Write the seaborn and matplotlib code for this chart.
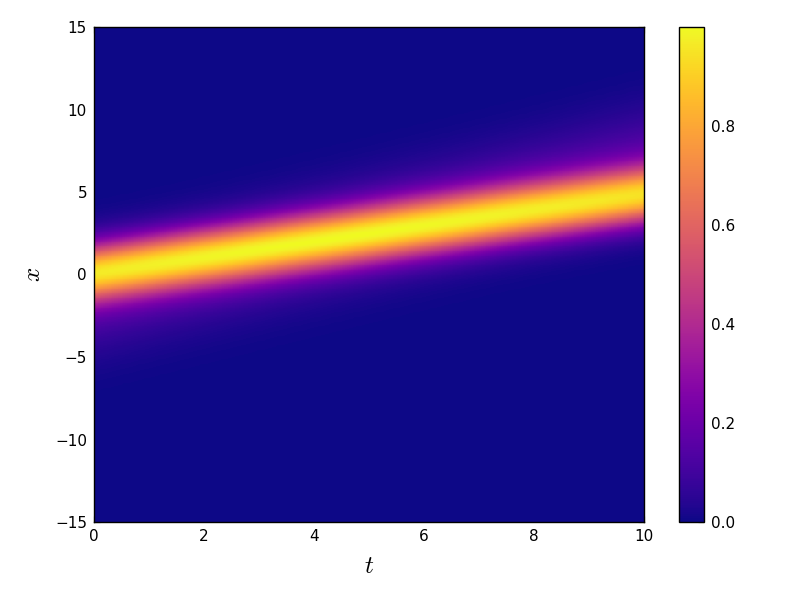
import numpy as np
import pandas as pd
import matplotlib
matplotlib.use("Agg")
import matplotlib.pyplot as plt
import seaborn as sns

# values
t_read = [0.0, 5.0, 10.0]            # times where the pulse was read
core_centre = [0.15, 2.47, 4.8]      # x of the bright ridge
halo_centre = [-1.4, 2.7, 6.8]       # x of the faint purple halo
core_amp, core_width = 0.85, 1.2
halo_amp, halo_width = 0.15, 2.1

t_ticks = [0, 2, 4, 6, 8, 10]
x_ticks = [15, 10, 5, 0, -5, -10, -15]
cbar_ticks = [0.0, 0.2, 0.4, 0.6, 0.8]

nt, nx = 300, 600
t = np.linspace(0, 10, nt)
x = np.linspace(15, -15, nx)  # heatmap rows go top -> bottom


def build_field():
    c1 = np.interp(t, t_read, core_centre)
    c2 = np.interp(t, t_read, halo_centre)
    X = x[:, None]
    u = core_amp * np.exp(-((X - c1[None, :]) ** 2) / (2 * core_width**2))
    u += halo_amp * np.exp(-((X - c2[None, :]) ** 2) / (2 * halo_width**2))
    return pd.DataFrame(u, index=x, columns=t)


sns.set_theme(style="ticks")
plt.rcParams["font.family"] = ["DejaVu Sans"]
plt.rcParams["mathtext.fontset"] = "cm"
plt.rcParams["text.color"] = "black"
plt.rcParams["axes.labelcolor"] = "black"
plt.rcParams["xtick.color"] = "black"
plt.rcParams["ytick.color"] = "black"

field = build_field()

fig = plt.figure(figsize=(8, 6), dpi=100)
ax = fig.add_axes([94 / 800, 78 / 600, 550 / 800, 495 / 600])
cax = fig.add_axes([679 / 800, 78 / 600, 25 / 800, 495 / 600])

sns.heatmap(field, ax=ax, cbar_ax=cax, cmap="plasma", vmin=0,
            xticklabels=False, yticklabels=False, rasterized=True)

ax.set_xticks([tt / 10 * nt for tt in t_ticks])
ax.set_xticklabels([str(tt) for tt in t_ticks])
ax.set_yticks([(15 - v) / 30 * nx for v in x_ticks])
ax.set_yticklabels([f"{v}".replace("-", "\u2212") for v in x_ticks], rotation=0)
for s in ax.spines.values():
    s.set_visible(True)
    s.set_color("black")
    s.set_linewidth(1.0)
ax.tick_params(axis="both", which="major", direction="in", length=4, width=0.8,
               color="black", labelcolor="black", labelsize=11, top=True,
               right=True, bottom=True, left=True, pad=5)
ax.set_xlabel("$t$", fontsize=18, color="black", labelpad=7)
ax.set_ylabel("$x$", fontsize=18, color="black", labelpad=7)

cb = ax.collections[0].colorbar
cb.outline.set_linewidth(1.0)
cb.outline.set_edgecolor("black")
cb.set_ticks(cbar_ticks)
cb.set_ticklabels([f"{v:.1f}" for v in cbar_ticks])
cax.tick_params(direction="in", length=4, width=0.8, color="black",
                labelcolor="black", labelsize=11, right=True, pad=5)

fig.savefig("out.png", dpi=100)
